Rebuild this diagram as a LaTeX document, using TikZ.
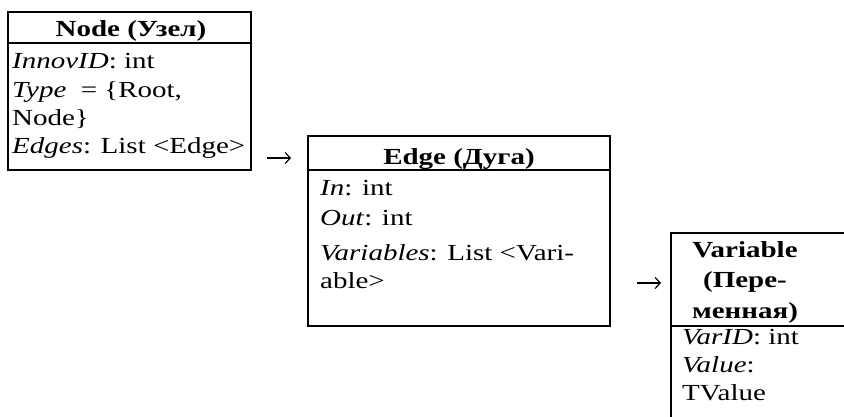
\documentclass[tikz,border=0pt]{standalone}
\usepackage{fontspec}
\setmainfont{Liberation Serif}[FakeStretch=1.26]
\usetikzlibrary{arrows.meta}
\tikzset{
  box/.style={draw, line width=2.2pt, inner sep=0pt},
  sep/.style={line width=2.2pt},
  txt/.style={anchor=base west, inner sep=0pt, font=\fontsize{23}{27}\selectfont},
  ttl/.style={anchor=base, inner sep=0pt, font=\fontsize{23}{27}\selectfont\bfseries},
  arr/.style={line width=1.2pt, -{Straight Barb[length=5pt,width=11pt,line width=1.2pt]}}
}
\begin{document}
\begin{tikzpicture}[x=1pt,y=-1pt]
\clip (0,0) rectangle (844,416);
\fill[white] (0,0) rectangle (844,416);
% Node box
\draw[box] (8,12) rectangle (251,170);
\coordinate (n1) at (8,43);
\coordinate (n2) at (251,43);
\draw[sep] (n1) -- (n2);
\node[ttl] (ntitle) at (131,36.7) {Node (Узел)};
\node[txt] (n_a) at (12,68) {\textit{InnovID}: int};
\node[txt] (n_b) at (12,97) {\textit{Type}~ = \{Root,};
\node[txt] (n_c) at (12,125) {Node\}};
\node[txt] (n_d) at (12,153) {\textit{Edges}: List <Edge>};
% arrow 1
\coordinate (a1s) at (267,158);
\coordinate (a1e) at (291,158);
\draw[arr] (a1s) -- (a1e);
% Edge box
\draw[box] (308,136) rectangle (610,326);
\coordinate (e1) at (308,170);
\coordinate (e2) at (610,170);
\draw[sep] (e1) -- (e2);
\node[ttl] (etitle) at (459,164) {Edge (Дуга)};
\node[txt] (e_a) at (320,195) {\textit{In}: int};
\node[txt] (e_b) at (320,225) {\textit{Out}: int};
\node[txt] (e_c) at (320,260) {\textit{Variables}: List <Vari-};
\node[txt] (e_d) at (320,288) {able>};
% arrow 2
\coordinate (a2s) at (637,283);
\coordinate (a2e) at (661,283);
\draw[arr] (a2s) -- (a2e);
% Variable box (clipped at right/bottom)
\draw[sep] (671,440) -- (671,233) -- (860,233);
\coordinate (v1) at (671,326);
\coordinate (v2) at (860,326);
\draw[sep] (v1) -- (v2);
\node[ttl] (vt1) at (745,257) {Variable};
\node[ttl] (vt2) at (745,287) {(Пере-};
\node[ttl] (vt3) at (745,318) {менная)};
\node[txt] (v_a) at (682,344) {\textit{VarID}: int};
\node[txt] (v_b) at (682,372) {\textit{Value}:};
\node[txt] (v_c) at (682,400) {TValue};
\end{tikzpicture}
\end{document}
